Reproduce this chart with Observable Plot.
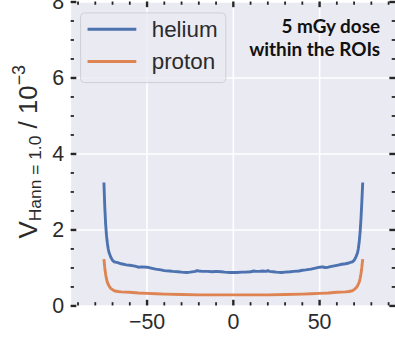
<!DOCTYPE html>
<html><head><meta charset="utf-8">
<script src="https://cdn.jsdelivr.net/npm/d3@7"></script>
<script src="https://cdn.jsdelivr.net/npm/@observablehq/plot@0.6"></script>
<style>
html,body{margin:0;padding:0;background:#fff;overflow:hidden;width:395px;height:341px}
#chart{position:relative;width:395px;height:341px;overflow:hidden}
</style></head><body><div id="chart"></div>
<script>
const heliumX = [-75,-74.5,-74,-73.5,-73,-72.5,-72,-71,-70,-69,-67,-65,-62,-60,-57,-55,-53,-50,-47,-45,-42,-40,-37,-35,-32,-30,-27,-25,-22,-21,-20,-18,-15,-12,-10,-7,-5,-2,0,2,5,7,10,12,13,15,17,19,20,21,23,25,28,30,33,35,38,40,42,45,47,50,52,53,55,57,60,62,65,67,68,69,70,71,72,72.5,73,73.5,74,74.5,75];
const heliumY = [3.25,2.6,2.15,1.85,1.65,1.5,1.4,1.28,1.2,1.16,1.14,1.11,1.08,1.07,1.05,1.02,1.03,1.02,0.99,0.97,0.95,0.93,0.92,0.91,0.9,0.89,0.88,0.89,0.91,0.93,0.92,0.91,0.91,0.9,0.91,0.9,0.89,0.88,0.88,0.88,0.89,0.89,0.9,0.92,0.91,0.91,0.92,0.91,0.93,0.91,0.9,0.89,0.88,0.89,0.9,0.91,0.92,0.94,0.95,0.97,0.99,1.02,1.03,1.01,1.02,1.04,1.07,1.09,1.11,1.13,1.15,1.16,1.2,1.28,1.4,1.52,1.7,1.95,2.3,2.75,3.25];
const protonX = [-75,-74.5,-74,-73.5,-73,-72,-71,-70,-69,-67,-65,-60,-55,-50,-45,-40,-30,-20,-10,0,10,20,30,40,45,50,55,60,65,67,69,70,71,72,73,73.5,74,74.5,75];
const protonY = [1.23,1.0,0.83,0.71,0.62,0.52,0.46,0.43,0.4,0.38,0.37,0.36,0.34,0.33,0.32,0.31,0.3,0.29,0.29,0.29,0.29,0.29,0.3,0.31,0.32,0.33,0.34,0.36,0.37,0.38,0.4,0.43,0.47,0.53,0.63,0.72,0.85,1.02,1.23];
const seriesNames = ["helium", "proton"];
const seriesColors = ["#4C72B0", "#DD8452"];
const xTickValues = [-50, 0, 50];
const xMinorTicks = [-90,-80,-70,-60,-40,-30,-20,-10,10,20,30,40,60,70,80,90];
const yTickValues = [0, 2, 4, 6, 8];
const yMinorTicks = [0.5,1,1.5,2.5,3,3.5,4.5,5,5.5,6.5,7,7.5];
const yLabelParts = ["V", "Hann = 1.0", " / 10", "−3"];
const annotationLines = ["5 mGy dose", "within the ROIs"];

const W = 397, H = 341, mL = 71, mR = 0, mT = 1.5, mB = 34;
const innerW = W - mL - mR, innerH = H - mT - mB;
const tickColor = "#262626";

const data = [
  ...heliumX.map((x, i) => ({series: seriesNames[0], x, y: heliumY[i]})),
  ...protonX.map((x, i) => ({series: seriesNames[1], x, y: protonY[i]}))
];
const fmt = d => d < 0 ? "−" + Math.abs(d) : String(d);

const plot = Plot.plot({
  width: W, height: H,
  marginLeft: mL, marginRight: mR, marginTop: mT, marginBottom: mB,
  x: {domain: [-94, 94]},
  y: {domain: [0, 8]},
  color: {domain: seriesNames, range: seriesColors},
  style: {fontFamily: "'Liberation Sans', Arial, sans-serif", background: "transparent", overflow: "visible"},
  marks: [
    Plot.frame({fill: "#EAEAF2", stroke: "none"}),
    Plot.ruleX(xTickValues, {x: d => d, stroke: "white", strokeWidth: 1.6}),
    Plot.ruleY(yTickValues, {y: d => d, stroke: "white", strokeWidth: 1.6}),
    Plot.line(data, {x: "x", y: "y", z: "series", stroke: "series", strokeWidth: 2.9, strokeLinejoin: "round", strokeLinecap: "butt"}),
    Plot.tickX(xMinorTicks, {x: d => d, insetTop: innerH - 3.3, stroke: tickColor, strokeWidth: 1.8}),
    Plot.tickX(xMinorTicks, {x: d => d, insetBottom: innerH - 3.3, stroke: tickColor, strokeWidth: 1.8}),
    Plot.tickX(xTickValues, {x: d => d, insetTop: innerH - 5.7, stroke: tickColor, strokeWidth: 2.4}),
    Plot.tickX(xTickValues, {x: d => d, insetBottom: innerH - 5.7, stroke: tickColor, strokeWidth: 2.4}),
    Plot.tickY(yMinorTicks, {y: d => d, insetRight: innerW - 3.3, stroke: tickColor, strokeWidth: 1.8}),
    Plot.tickY(yMinorTicks, {y: d => d, insetLeft: innerW - 3.3, stroke: tickColor, strokeWidth: 1.8}),
    Plot.tickY(yTickValues, {y: d => d, insetRight: innerW - 5.7, stroke: tickColor, strokeWidth: 2.4}),
    Plot.tickY(yTickValues, {y: d => d, insetLeft: innerW - 5.7, stroke: tickColor, strokeWidth: 2.4}),
    Plot.axisX({ticks: xTickValues, tickSize: 0, tickPadding: 8, fontSize: 21.5, tickFormat: fmt, label: null, color: "#2b2b2b"}),
    Plot.axisY({ticks: yTickValues, tickSize: 0, tickPadding: 7, fontSize: 21.5, tickFormat: fmt, label: null, color: "#2b2b2b"})
  ]
});

const svg = d3.select(plot);
// y-axis label
const lab = svg.append("text")
  .attr("transform", "translate(37,152.5) rotate(-90)")
  .attr("text-anchor", "middle").attr("font-size", 26).attr("fill", "#2b2b2b");
lab.append("tspan").text(yLabelParts[0]);
lab.append("tspan").attr("font-size", 17.5).attr("dy", 4).text(yLabelParts[1]);
lab.append("tspan").attr("dy", -4).text(yLabelParts[2]);
lab.append("tspan").attr("font-size", 18).attr("dy", -12).text(yLabelParts[3]);

// legend
const lg = svg.append("g").attr("text-anchor", "start");
lg.append("rect").attr("x", 81).attr("y", 13).attr("width", 146).attr("height", 70).attr("rx", 4)
  .attr("fill", "rgba(234,234,242,0.8)").attr("stroke", "#cfcfd4").attr("stroke-width", 1);
const legY = [29.3, 61.7];
seriesNames.forEach((name, i) => {
  lg.append("line").attr("x1", 88).attr("x2", 137).attr("y1", legY[i]).attr("y2", legY[i])
    .attr("stroke", seriesColors[i]).attr("stroke-width", 3);
  lg.append("text").attr("x", 152.5).attr("y", legY[i] + 7.8).attr("font-size", 22.5)
    .attr("text-anchor", "start").attr("fill", "#2b2b2b").text(name);
});

// annotation
const an = svg.append("text").attr("text-anchor", "end").attr("font-family", "Lato, 'Open Sans', sans-serif")
  .attr("font-weight", 700).attr("font-size", 19).attr("fill", "#111");
an.append("tspan").attr("x", 382).attr("y", 33.3).text(annotationLines[0]);
an.append("tspan").attr("x", 382).attr("y", 56).text(annotationLines[1]);

document.getElementById("chart").appendChild(plot);
</script>
</body></html>
